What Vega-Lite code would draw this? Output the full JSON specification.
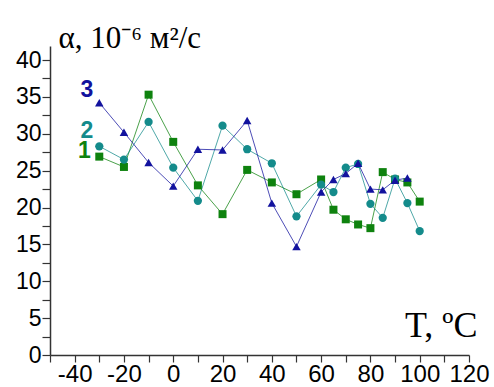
{
  "$schema": "https://vega.github.io/schema/vega-lite/v6.json",
  "autosize": "none",
  "width": 419,
  "height": 309,
  "padding": {"left": 50, "top": 46, "right": 25, "bottom": 32},
  "background": "white",
  "config": {"view": {"stroke": null}},
  "datasets": {
    "pts": [
      {"T": -30, "v": 26.9, "s": "1"}, {"T": -20, "v": 25.5, "s": "1"}, {"T": -10, "v": 35.3, "s": "1"}, {"T": 0, "v": 28.9, "s": "1"},
      {"T": 10, "v": 23.0, "s": "1"}, {"T": 20, "v": 19.1, "s": "1"}, {"T": 30, "v": 25.1, "s": "1"}, {"T": 40, "v": 23.4, "s": "1"},
      {"T": 50, "v": 21.8, "s": "1"}, {"T": 60, "v": 23.8, "s": "1"}, {"T": 65, "v": 19.7, "s": "1"}, {"T": 70, "v": 18.4, "s": "1"},
      {"T": 75, "v": 17.7, "s": "1"}, {"T": 80, "v": 17.2, "s": "1"}, {"T": 85, "v": 24.8, "s": "1"}, {"T": 90, "v": 23.8, "s": "1"},
      {"T": 95, "v": 23.4, "s": "1"}, {"T": 100, "v": 20.8, "s": "1"},
      {"T": -30, "v": 28.3, "s": "2"}, {"T": -20, "v": 26.5, "s": "2"}, {"T": -10, "v": 31.6, "s": "2"}, {"T": 0, "v": 25.4, "s": "2"},
      {"T": 10, "v": 20.9, "s": "2"}, {"T": 20, "v": 31.1, "s": "2"}, {"T": 30, "v": 27.9, "s": "2"}, {"T": 40, "v": 26.0, "s": "2"},
      {"T": 50, "v": 18.8, "s": "2"}, {"T": 60, "v": 23.1, "s": "2"}, {"T": 65, "v": 22.1, "s": "2"}, {"T": 70, "v": 25.4, "s": "2"},
      {"T": 75, "v": 25.9, "s": "2"}, {"T": 80, "v": 20.5, "s": "2"}, {"T": 85, "v": 18.6, "s": "2"}, {"T": 90, "v": 23.9, "s": "2"},
      {"T": 95, "v": 20.6, "s": "2"}, {"T": 100, "v": 16.8, "s": "2"},
      {"T": -30, "v": 34.2, "s": "3"}, {"T": -20, "v": 30.2, "s": "3"}, {"T": -10, "v": 26.1, "s": "3"}, {"T": 0, "v": 22.9, "s": "3"},
      {"T": 10, "v": 27.9, "s": "3"}, {"T": 20, "v": 27.8, "s": "3"}, {"T": 30, "v": 31.8, "s": "3"}, {"T": 40, "v": 20.6, "s": "3"},
      {"T": 50, "v": 14.7, "s": "3"}, {"T": 60, "v": 22.1, "s": "3"}, {"T": 65, "v": 23.8, "s": "3"}, {"T": 70, "v": 24.6, "s": "3"},
      {"T": 75, "v": 26.0, "s": "3"}, {"T": 80, "v": 22.5, "s": "3"}, {"T": 85, "v": 22.4, "s": "3"}, {"T": 90, "v": 23.7, "s": "3"},
      {"T": 95, "v": 24.0, "s": "3"}
    ],
    "labels": [
      {"T": -36, "v": 27.7, "s": "1"},
      {"T": -35, "v": 30.4, "s": "2"},
      {"T": -35, "v": 35.9, "s": "3"}
    ]
  },
  "encoding": {
    "x": {
      "field": "T", "type": "quantitative",
      "scale": {"domain": [-50, 120], "nice": false, "zero": false},
      "axis": {
        "values": [-50, -40, -30, -20, -10, 0, 10, 20, 30, 40, 50, 60, 70, 80, 90, 100, 110, 120],
        "labelExpr": "datum.value % 20 === 0 ? toString(datum.value) : ''",
        "grid": false, "tickSize": 7, "labelPadding": 19, "labelBaseline": "alphabetic",
        "labelFont": "Liberation Sans", "labelFontSize": 24, "labelColor": "#000",
        "labelOverlap": false, "labelFlush": false,
        "domainColor": "#333", "domainWidth": 1.5, "tickColor": "#333", "tickWidth": 1.2,
        "title": "T, ºC", "titleFont": "Liberation Serif", "titleFontSize": 36, "titleFontWeight": "normal", "titleColor": "#000",
        "titleAnchor": null, "titleAlign": "right", "titleBaseline": "alphabetic", "titleX": 427, "titleY": -19,
        "encode": {"ticks": {"update": {"y2": {"signal": "datum.value % 20 === 0 ? 7 : 4"}}}}
      }
    },
    "y": {
      "field": "v", "type": "quantitative",
      "scale": {"domain": [0, 41.9], "nice": false},
      "axis": {
        "values": [0, 2.5, 5, 7.5, 10, 12.5, 15, 17.5, 20, 22.5, 25, 27.5, 30, 32.5, 35, 37.5, 40],
        "labelExpr": "datum.value % 5 === 0 ? datum.label : ''",
        "grid": false, "tickSize": 8, "labelPadding": 1,
        "labelFont": "Liberation Sans", "labelFontSize": 23, "labelColor": "#000",
        "labelOverlap": false, "labelFlush": false, "labelBaseline": "middle",
        "domainColor": "#333", "domainWidth": 1.5, "tickColor": "#333", "tickWidth": 1.2,
        "title": "α, 10⁻⁶ м²/с", "titleFont": "Liberation Serif", "titleFontSize": 31, "titleFontWeight": "normal", "titleColor": "#000",
        "titleAngle": 0, "titleAnchor": null, "titleAlign": "left", "titleBaseline": "alphabetic", "titleX": 8, "titleY": 1,
        "encode": {"ticks": {"update": {"x2": {"signal": "datum.value % 5 === 0 ? -8 : -4"}}}}
      }
    },
    "color": {
      "field": "s", "type": "nominal", "legend": null,
      "scale": {"domain": ["1", "2", "3"], "range": ["#0e820e", "#148b8b", "#12129e"]}
    }
  },
  "layer": [
    {
      "data": {"name": "pts"},
      "mark": {"type": "line", "strokeWidth": 1, "opacity": 0.75},
      "encoding": {"detail": {"field": "s"}, "order": {"field": "T", "type": "quantitative"}}
    },
    {
      "data": {"name": "pts"},
      "mark": {"type": "point", "filled": true, "opacity": 1},
      "encoding": {
        "shape": {"field": "s", "type": "nominal", "legend": null, "scale": {"domain": ["1", "2", "3"], "range": ["square", "circle", "triangle-up"]}},
        "size": {"field": "s", "type": "nominal", "legend": null, "scale": {"domain": ["1", "2", "3"], "range": [64, 72, 110]}},
        "order": {"field": "s", "type": "nominal"}
      }
    },
    {
      "data": {"name": "labels"},
      "mark": {"type": "text", "font": "Liberation Sans", "fontWeight": "bold", "fontSize": 23, "align": "center", "baseline": "middle"},
      "encoding": {"text": {"field": "s"}}
    }
  ]
}
